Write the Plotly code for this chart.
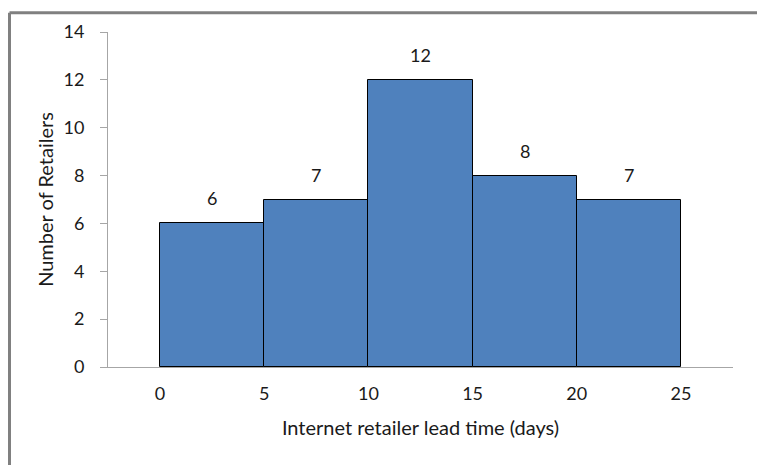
import plotly.graph_objects as go

# histogram bins (days) and counts
bin_starts = [0, 5, 10, 15, 20]
bin_width = 5
counts = [6, 7, 12, 8, 7]
x_ticks = [0, 5, 10, 15, 20, 25]
y_ticks = [0, 2, 4, 6, 8, 10, 12, 14]

mids = [s + bin_width / 2 for s in bin_starts]

# page body adds 8px, so margins are set against that
W, H = 765, 465
L, R, T, B = 100, 40, 21, 106

fig = go.Figure()

fig.add_trace(go.Bar(
    x=mids,
    y=counts,
    width=[bin_width] * len(counts),
    marker=dict(color='#4F81BD', line=dict(color='black', width=1)),
    hoverinfo='skip',
))

# count labels above each bar
for m, c in zip(mids, counts):
    fig.add_annotation(x=m, y=c, text=str(c), showarrow=False,
                       yanchor='bottom', yshift=12,
                       font=dict(size=18, color='#1a1a1a'))

# outer chart frame (left and top edges in gray)
pw = W - L - R
ph = H - T - B
fig.add_shape(type='line', xref='paper', yref='paper',
              x0=(1.5 - L) / pw, x1=(1.5 - L) / pw,
              y0=(H - T - B - H) / ph, y1=(H - T - B + T - 1.5) / ph,
              line=dict(color='#808080', width=3))
fig.add_shape(type='line', xref='paper', yref='paper',
              x0=(1.5 - L) / pw, x1=(W - L) / pw,
              y0=(ph + T - 1.5) / ph, y1=(ph + T - 1.5) / ph,
              line=dict(color='#808080', width=3))

fig.update_layout(
    width=W, height=H,
    margin=dict(l=L, r=R, t=T, b=B),
    plot_bgcolor='white',
    paper_bgcolor='white',
    font=dict(family='Lato', size=17, color='#1a1a1a'),
    showlegend=False,
    bargap=0,
)

fig.update_xaxes(
    range=[-2.5, 27.5],
    tickvals=x_ticks,
    tickfont=dict(size=18),
    showgrid=False,
    zeroline=False,
    showline=True, linecolor='#A6A6A6', linewidth=1,
    ticks='',
    ticklabelstandoff=10,
    title=dict(text='Internet retailer lead time (days)', standoff=18),
)

fig.update_yaxes(
    range=[0, 14],
    tickvals=y_ticks,
    tickfont=dict(size=18),
    showgrid=False,
    zeroline=False,
    showline=True, linecolor='#A6A6A6', linewidth=1,
    ticks='outside', ticklen=7, tickcolor='#A6A6A6',
    ticklabelstandoff=12,
    title=dict(text='Number of Retailers', standoff=4),
)

fig.write_html("out.html")
